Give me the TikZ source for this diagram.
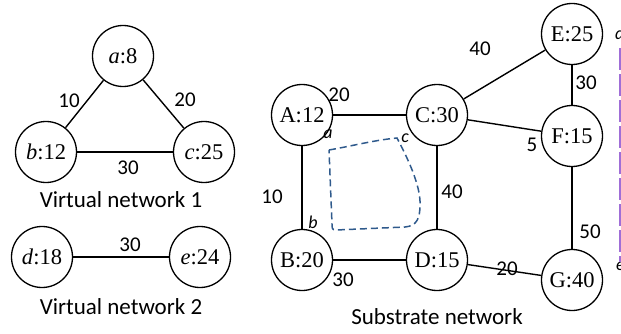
\documentclass[tikz,border=0pt]{standalone}
\usepackage{fontspec}
\setmainfont{Liberation Serif}
\newfontfamily\labfont{Carlito}
\definecolor{mapblue}{RGB}{47,90,140}
\definecolor{edgepurple}{RGB}{160,110,215}
\begin{document}
\begin{tikzpicture}[x=1pt,y=-1pt,
  netnode/.style={circle, draw, line width=1.3pt, minimum size=61pt, inner sep=0pt,
    font=\fontsize{22.5}{22.5}\selectfont},
  link/.style={line width=1.4pt},
  elab/.style={font=\labfont\fontsize{21}{21}\selectfont, inner sep=0pt},
  caption/.style={font=\labfont\fontsize{23}{23}\selectfont, inner sep=0pt},
  corner/.style={font=\labfont\itshape\fontsize{18}{18}\selectfont, inner sep=0pt},
  mapping/.style={draw=mapblue, line width=1.5pt, dash pattern=on 7pt off 4pt}]
\useasboundingbox (0,0) rectangle (621,334);
\clip (0,0) rectangle (621,334);

% virtual network 1
\node[netnode] (va) at (123,56) {\textit{a}:8};
\node[netnode] (vb) at (46,152) {\textit{b}:12};
\node[netnode] (vc) at (204,152) {\textit{c}:25};
\draw[link] (va) -- (vb);
\draw[link] (va) -- (vc);
\draw[link] (vb) -- (vc);
\node[elab] (lab1) at (69,101) {10};
\node[elab] (lab2) at (185,100) {20};
\node[elab] (lab3) at (128,168) {30};
\node[caption] (cap1) at (121,200) {Virtual network 1};

% virtual network 2
\node[netnode] (vd) at (42,257) {\textit{d}:18};
\node[netnode] (ve) at (200,257) {\textit{e}:24};
\draw[link] (vd) -- (ve);
\node[elab] (lab4) at (130,245) {30};
\node[caption] (cap2) at (121,307) {Virtual network 2};

% substrate network
\node[netnode] (A) at (302,115) {A:12};
\node[netnode] (C) at (437,115) {C:30};
\node[netnode] (E) at (572,34) {E:25};
\node[netnode] (F) at (572,136) {F:15};
\node[netnode] (B) at (302,260) {B:20};
\node[netnode] (D) at (437,260) {D:15};
\node[netnode] (G) at (572,280) {G:40};
\draw[link] (A) -- (C);
\draw[link] (A) -- (B);
\draw[link] (C) -- (D);
\draw[link] (B) -- (D);
\draw[link] (C) -- (E);
\draw[link] (C) -- (F);
\draw[link] (E) -- (F);
\draw[link] (F) -- (G);
\draw[link] (D) -- (G);
\node[elab] (sAC) at (339,95) {20};
\node[elab] (sAB) at (272,197) {10};
\node[elab] (sBD) at (343,280) {30};
\node[elab] (sCD) at (452,192) {40};
\node[elab] (sCE) at (480,49) {40};
\node[elab] (sCF) at (532,145) {5};
\node[elab] (sEF) at (586,83) {30};
\node[elab] (sFG) at (590,232) {50};
\node[elab] (sDG) at (507,269) {20};
\node[caption] (cap3) at (437,317) {Substrate network};

% mapped virtual nodes and the region they occupy
\node[corner] (ma) at (328,134) {a};
\node[corner] (mc) at (405,138) {c};
\node[corner] (mb) at (313,222) {b};
\draw[mapping] (329,150) .. controls (352,146) and (375,140) .. (397,138)
  .. controls (406,155) and (421,185) .. (420,205)
  .. controls (420,218) and (417,226) .. (405,227)
  -- (336,230) .. controls (332,230) and (332,228) .. (332,224) -- (329,150);

% partial marks along the right edge
\node[corner, anchor=west] (rd) at (615,33) {d};
\node[corner, anchor=west] (re) at (616,266) {e};
\draw[edgepurple, line width=2.6pt, dash pattern=on 22pt off 4pt] (620.4,48) -- (620.4,262);
\end{tikzpicture}
\end{document}
